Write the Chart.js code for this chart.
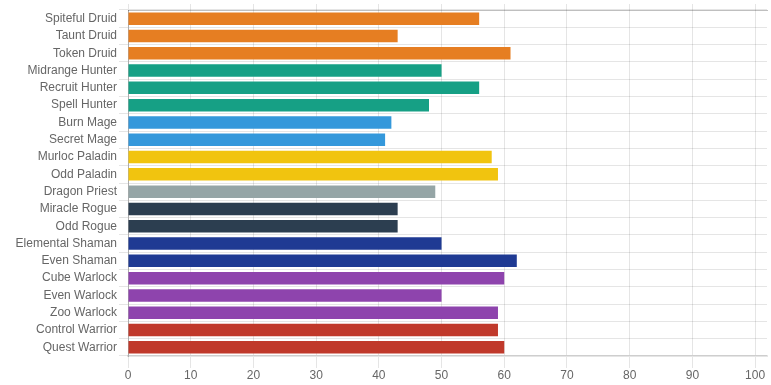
<!DOCTYPE html>
<html>
<head>
<meta charset="utf-8">
<script src="https://cdn.jsdelivr.net/npm/chart.js@4/dist/chart.umd.min.js"></script>
<style>
  html, body { margin: 0; padding: 0; background: #fff; }
  #wrap { width: 771px; height: 385px; position: relative; }
</style>
</head>
<body>
<div id="wrap"><canvas id="c" width="771" height="385"></canvas></div>
<script>
const categories = [
  "Spiteful Druid", "Taunt Druid", "Token Druid",
  "Midrange Hunter", "Recruit Hunter", "Spell Hunter",
  "Burn Mage", "Secret Mage",
  "Murloc Paladin", "Odd Paladin",
  "Dragon Priest",
  "Miracle Rogue", "Odd Rogue",
  "Elemental Shaman", "Even Shaman",
  "Cube Warlock", "Even Warlock", "Zoo Warlock",
  "Control Warrior", "Quest Warrior"
];
const values = [56, 43, 61, 50, 56, 48, 42, 41, 58, 59, 49, 43, 43, 50, 62, 60, 50, 59, 59, 60];
const classOfDeck = [
  "Druid", "Druid", "Druid",
  "Hunter", "Hunter", "Hunter",
  "Mage", "Mage",
  "Paladin", "Paladin",
  "Priest",
  "Rogue", "Rogue",
  "Shaman", "Shaman",
  "Warlock", "Warlock", "Warlock",
  "Warrior", "Warrior"
];
const classColors = {
  Druid: "#e67e22", Hunter: "#16a085", Mage: "#3498db", Paladin: "#f1c40f",
  Priest: "#95a5a6", Rogue: "#2c3e50", Shaman: "#1f3a93", Warlock: "#8e44ad", Warrior: "#c0392b"
};
const xTicks = [0, 10, 20, 30, 40, 50, 60, 70, 80, 90, 100];

Chart.defaults.font.family = "'Liberation Sans', Arial, sans-serif";
Chart.defaults.font.size = 12;
Chart.defaults.color = "#666";

const keepTicks = (scale) => {
  scale.ticks = xTicks.map(v => ({ value: v }));
};

new Chart(document.getElementById("c"), {
  type: "bar",
  data: {
    labels: categories,
    datasets: [{
      data: values,
      backgroundColor: classOfDeck.map(c => classColors[c]),
      borderWidth: 0,
      categoryPercentage: 0.8,
      barPercentage: 0.9
    }]
  },
  options: {
    indexAxis: "y",
    responsive: false,
    animation: false,
    layout: { padding: { top: 4, right: 4, bottom: 0, left: 0 } },
    plugins: { legend: { display: false }, tooltip: { enabled: false } },
    scales: {
      x: {
        position: "bottom",
        min: 0,
        max: 101.9,
        afterBuildTicks: keepTicks,
        afterFit: (s) => { s.height = 29; },
        grid: { color: "rgba(0,0,0,0.1)", tickLength: 12 },
        border: { color: "rgba(0,0,0,0.1)", width: 2 },
        ticks: { padding: 0, color: "#666", autoSkip: false, maxRotation: 0 }
      },
      x2: {
        position: "top",
        axis: "x",
        min: 0,
        max: 101.9,
        afterBuildTicks: keepTicks,
        grid: { color: "rgba(0,0,0,0.1)", drawOnChartArea: false, tickLength: 6 },
        border: { color: "rgba(0,0,0,0.25)" },
        ticks: { display: false }
      },
      y: {
        afterFit: (s) => { s.width = 128; },
        grid: { color: "rgba(0,0,0,0.1)", tickLength: 9, offset: true },
        border: { color: "rgba(0,0,0,0.25)" },
        ticks: { padding: 2, color: "#666", autoSkip: false }
      }
    }
  }
});
</script>
</body>
</html>
